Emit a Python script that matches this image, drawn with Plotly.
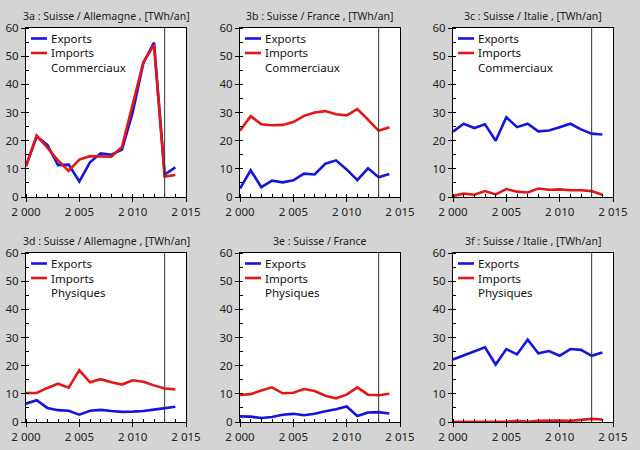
import plotly.graph_objects as go

years = list(range(2000, 2015))

titles = [
    "3a : Suisse / Allemagne , [TWh/an]",
    "3b : Suisse / France , [TWh/an]",
    "3c : Suisse / Italie , [TWh/an]",
    "3d : Suisse / Allemagne , [TWh/an]",
    "3e : Suisse / France",
    "3f : Suisse / Italie , [TWh/an]",
]
kinds = ["Commerciaux", "Commerciaux", "Commerciaux", "Physiques", "Physiques", "Physiques"]

exp_3a = [11.0, 21.5, 18.5, 11.3, 11.5, 5.5, 12.3, 15.5, 15.0, 16.8, 30.0, 47.5, 54.8, 8.0, 10.5]
imp_3a = [11.0, 21.8, 17.5, 13.0, 9.3, 13.3, 14.5, 14.3, 14.3, 17.8, 33.0, 47.8, 54.0, 7.3, 7.8]
exp_3b = [3.0, 9.5, 3.5, 5.8, 5.2, 5.9, 8.3, 8.0, 11.8, 13.0, 9.8, 6.0, 10.2, 7.0, 8.2]
imp_3b = [23.5, 28.7, 25.8, 25.5, 25.6, 26.6, 28.8, 30.0, 30.5, 29.4, 29.0, 31.2, 27.5, 23.5, 24.8]
exp_3c = [23.2, 26.0, 24.5, 25.8, 20.0, 28.3, 24.8, 26.0, 23.3, 23.6, 24.8, 26.0, 24.0, 22.5, 22.2]
imp_3c = [0.4, 1.2, 0.8, 2.1, 0.9, 2.8, 1.9, 1.6, 3.0, 2.6, 2.7, 2.4, 2.4, 2.1, 0.8]
exp_3d = [6.5, 7.7, 5.0, 4.2, 4.0, 2.6, 4.0, 4.3, 3.9, 3.6, 3.7, 3.9, 4.4, 4.8, 5.4]
imp_3d = [10.3, 10.3, 12.1, 13.6, 12.2, 18.4, 14.1, 15.2, 14.1, 13.3, 14.8, 14.3, 13.0, 11.9, 11.6]
exp_3e = [2.0, 1.9, 1.4, 1.8, 2.6, 2.9, 2.4, 2.9, 3.8, 4.5, 5.5, 2.1, 3.4, 3.5, 3.0]
imp_3e = [9.6, 9.9, 11.2, 12.3, 10.2, 10.4, 11.7, 11.0, 9.3, 8.4, 9.7, 12.3, 9.7, 9.5, 10.0]
exp_3f = [22.2, 23.6, 25.1, 26.5, 20.4, 25.9, 24.0, 29.2, 24.4, 25.2, 23.5, 25.9, 25.6, 23.5, 24.7]
imp_3f = [0.1, 0.1, 0.1, 0.1, 0.1, 0.1, 0.4, 0.1, 0.4, 0.5, 0.5, 0.4, 0.7, 1.1, 0.9]

exports = [exp_3a, exp_3b, exp_3c, exp_3d, exp_3e, exp_3f]
imports = [imp_3a, imp_3b, imp_3c, imp_3d, imp_3e, imp_3f]
marker_year = 2013

BLUE = "rgb(20,20,225)"
RED = "rgb(228,22,22)"
FONT = "Noto Sans"
FS = 10.5
W, H = 640, 450

x_dom = [(26, 186), (240, 400), (453, 613)]
y_dom = [(28, 197), (253, 422)]

fig = go.Figure()
for i in range(6):
    r, c = divmod(i, 3)
    xa = "x" if i == 0 else f"x{i+1}"
    ya = "y" if i == 0 else f"y{i+1}"
    fig.add_trace(go.Scatter(x=years, y=exports[i], mode="lines", line=dict(color=BLUE, width=2.6),
                             xaxis=xa, yaxis=ya, showlegend=False))
    fig.add_trace(go.Scatter(x=years, y=imports[i], mode="lines", line=dict(color=RED, width=2.6),
                             xaxis=xa, yaxis=ya, showlegend=False))
    x0, x1 = x_dom[c]
    yt, yb = y_dom[r]
    axis_common = dict(showline=True, linecolor="black", linewidth=1, mirror=True,
                       showgrid=False, zeroline=False, ticks="outside", ticklen=4,
                       tickcolor="black", automargin=False,
                       tickfont=dict(family=FONT, size=11.5, color="#222"))
    fig.layout[("xaxis" if i == 0 else f"xaxis{i+1}")] = dict(
        domain=[x0 / W, x1 / W], anchor=ya, range=[2000, 2015], tickmode="linear",
        tick0=2000, dtick=5, tickformat=",d",
        minor=dict(dtick=1, ticks="inside", ticklen=3, tickcolor="black"), **axis_common)
    fig.layout[("yaxis" if i == 0 else f"yaxis{i+1}")] = dict(
        domain=[1 - yb / H, 1 - yt / H], anchor=xa, range=[0, 60], tickmode="linear",
        tick0=0, dtick=10,
        minor=dict(dtick=5, ticks="inside", ticklen=3, tickcolor="black"), **axis_common)
    # vertical marker line
    fig.add_shape(type="line", xref=xa, yref=f"{ya} domain", x0=marker_year, x1=marker_year,
                  y0=0, y1=1, line=dict(color="#333", width=1))
    # title
    fig.add_annotation(text=titles[i], xref="paper", yref="paper", x=(x0 + x1) / 2 / W,
                       y=1 - (yt - 11.5) / H, showarrow=False, xanchor="center", yanchor="middle",
                       font=dict(family=FONT, size=FS, color="#222"))
    # legend
    for k, (lab, col) in enumerate([("Exports", BLUE), ("Imports", RED), (kinds[i], None)]):
        ly = yt + 10.5 + 14.5 * k
        if col:
            fig.add_shape(type="line", xref="paper", yref="paper", x0=(x0 + 5) / W, x1=(x0 + 21) / W,
                          y0=1 - ly / H, y1=1 - ly / H, line=dict(color=col, width=2.6))
        fig.add_annotation(text=lab, xref="paper", yref="paper", x=(x0 + 23) / W, y=1 - ly / H,
                           showarrow=False, xanchor="left", yanchor="middle",
                           font=dict(family=FONT, size=11.5, color="#111"))

fig.update_layout(width=W, height=H, margin=dict(l=0, r=0, t=0, b=0),
                  paper_bgcolor="rgb(212,212,212)", plot_bgcolor="white",
                  separators=". ", showlegend=False)
fig.write_html("out.html", config={"displayModeBar": False},
               post_script="document.body.style.margin='0px';document.body.style.overflow='hidden';")
